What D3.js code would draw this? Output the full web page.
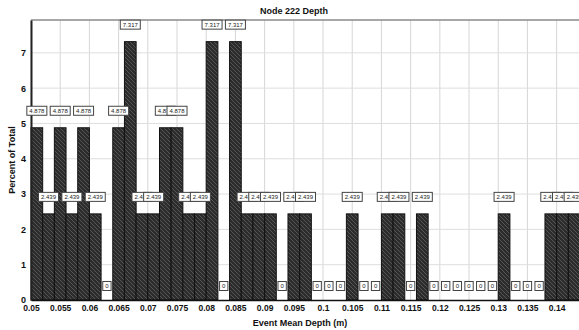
<!DOCTYPE html>
<html>
<head>
<meta charset="utf-8">
<script src="https://cdn.jsdelivr.net/npm/d3@7"></script>
<style>
  html, body { margin: 0; padding: 0; background: #fff; }
  svg { display: block; font-family: "Liberation Sans", Arial, sans-serif; }
</style>
</head>
<body>
<svg id="chart" width="579" height="330"></svg>
<script>
// Histogram of event mean depth at node 222 (percent of 41 events per 0.002 m bin)
const binStart = 0.05;
const binWidth = 0.002;
const percents = [
  4.878, 2.439, 4.878, 2.439, 4.878, 2.439, 0, 4.878, 7.317, 2.439,
  2.439, 4.878, 4.878, 2.439, 2.439, 7.317, 0, 7.317, 2.439, 2.439,
  2.439, 0, 2.439, 2.439, 0, 0, 0, 2.439, 0, 0,
  2.439, 2.439, 0, 2.439, 0, 0, 0, 0, 0, 0,
  2.439, 0, 0, 0, 2.439, 2.439, 2.439
];
const xTicks = [0.05, 0.055, 0.06, 0.065, 0.07, 0.075, 0.08, 0.085, 0.09, 0.095,
                0.1, 0.105, 0.11, 0.115, 0.12, 0.125, 0.13, 0.135, 0.14];
const xTickLabels = ["0.05", "0.055", "0.06", "0.065", "0.07", "0.075", "0.08", "0.085", "0.09", "0.095",
                     "0.1", "0.105", "0.11", "0.115", "0.12", "0.125", "0.13", "0.135", "0.14"];
const yTicks = [0, 1, 2, 3, 4, 5, 6, 7];
const titleText = "Node 222 Depth";
const xTitle = "Event Mean Depth  (m)";
const yTitle = "Percent of Total";

(function draw() {
  const bins = percents.map((p, i) => ({
    x0: binStart + i * binWidth,
    x1: binStart + (i + 1) * binWidth,
    value: p
  }));

  const svg = d3.select("#chart");
  const plotL = 31, plotR = 580, plotT = 20, plotB = 300;

  const x = d3.scaleLinear().domain([0.05, 0.144]).range([plotL, plotR]);
  const y = d3.scaleLinear().domain([0, 7.93]).range([plotB, plotT]);

  // hatch fill for the bars
  const defs = svg.append("defs");
  const pat = defs.append("pattern")
    .attr("id", "hatch").attr("patternUnits", "userSpaceOnUse")
    .attr("width", 4).attr("height", 4);
  pat.append("rect").attr("width", 4).attr("height", 4).attr("fill", "#2c2c2c");
  pat.append("path")
    .attr("d", "M0,0 L4,4 M-1,3 L1,5 M3,-1 L5,1")
    .attr("stroke", "#555").attr("stroke-width", 1);

  // grid
  const grid = svg.append("g");
  grid.selectAll("line.v").data(xTicks).join("line").attr("class", "v")
    .attr("x1", d => x(d)).attr("x2", d => x(d))
    .attr("y1", plotT).attr("y2", plotB)
    .attr("stroke", "#d6d6d6").attr("stroke-width", 1);
  grid.selectAll("line.h").data(yTicks.filter(d => d > 0)).join("line").attr("class", "h")
    .attr("x1", plotL).attr("x2", plotR)
    .attr("y1", d => y(d)).attr("y2", d => y(d))
    .attr("stroke", "#dedede").attr("stroke-width", 1);

  // top frame
  svg.append("line")
    .attr("x1", plotL).attr("x2", plotR).attr("y1", plotT).attr("y2", plotT)
    .attr("stroke", "#8a8a8a").attr("stroke-width", 1.5);

  // bars
  svg.append("g").selectAll("rect").data(bins.filter(b => b.value > 0)).join("rect")
    .attr("x", d => x(d.x0))
    .attr("y", d => y(d.value))
    .attr("width", d => x(d.x1) - x(d.x0))
    .attr("height", d => y(0) - y(d.value))
    .attr("fill", "url(#hatch)")
    .attr("stroke", "#111").attr("stroke-width", 1);

  // axes
  const xAxis = d3.axisBottom(x).tickValues(xTicks)
    .tickFormat((d, i) => xTickLabels[i]).tickSize(0).tickPadding(5);
  const gx = svg.append("g").attr("transform", `translate(0,${plotB})`).call(xAxis);
  gx.select(".domain").attr("stroke", "#111").attr("stroke-width", 1.5);
  gx.selectAll("text").attr("font-size", 8.5).attr("font-weight", "bold").attr("fill", "#111");

  const yAxis = d3.axisLeft(y).tickValues(yTicks).tickFormat(d3.format("d"))
    .tickSize(0).tickPadding(5);
  const gy = svg.append("g").attr("transform", `translate(${plotL},0)`).call(yAxis);
  gy.select(".domain").attr("stroke", "#222").attr("stroke-width", 2);
  gy.selectAll("text").attr("font-size", 9).attr("font-weight", "bold").attr("fill", "#111");

  // value labels drawn left to right so each box covers its neighbour
  const lab = svg.append("g");
  bins.forEach(b => {
    const cx = (x(b.x0) + x(b.x1)) / 2;
    const cy = y(b.value) - (b.value > 0 ? 17 : 14);
    const txt = String(b.value);
    const g = lab.append("g").attr("transform", `translate(${cx},${cy})`);
    const t = g.append("text").text(txt)
      .attr("text-anchor", "middle").attr("dy", "0.35em")
      .attr("font-size", 6).attr("fill", "#222");
    const w = t.node().getComputedTextLength() + 5;
    g.insert("rect", "text")
      .attr("x", -w / 2).attr("y", -4.5).attr("width", w).attr("height", 9)
      .attr("fill", "#fff").attr("stroke", "#444").attr("stroke-width", 1);
  });

  // titles
  svg.append("text").attr("x", 294).attr("y", 13.5).attr("text-anchor", "middle")
    .attr("font-size", 9).attr("font-weight", "bold").attr("fill", "#111").text(titleText);
  svg.append("text").attr("x", 300).attr("y", 326).attr("text-anchor", "middle")
    .attr("font-size", 9).attr("font-weight", "bold").attr("fill", "#111").text(xTitle);
  svg.append("text").attr("transform", "translate(15,160) rotate(-90)")
    .attr("text-anchor", "middle")
    .attr("font-size", 9).attr("font-weight", "bold").attr("fill", "#111").text(yTitle);
})();
</script>
</body>
</html>
